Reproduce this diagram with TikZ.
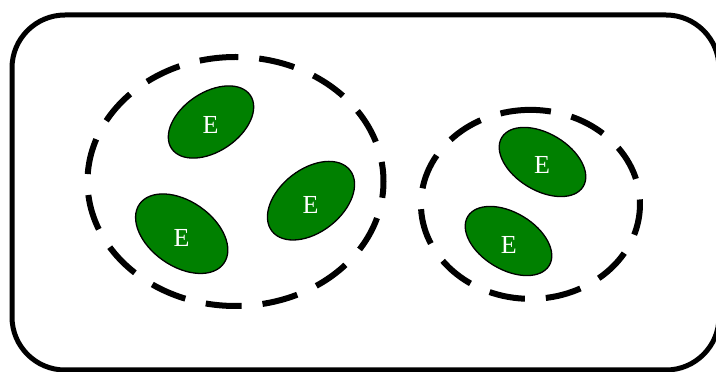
\documentclass[tikz,border=0pt]{standalone}
\usepackage{fontspec}
\setmainfont{Liberation Serif}
\definecolor{entgreen}{HTML}{008000}
\tikzset{
  frame/.style={line width=5pt, rounded corners=53pt},
  group/.style={line width=6pt, dash pattern=on 36pt off 21pt},
  entity/.style={fill=entgreen, draw=black, line width=1.3pt},
  elabel/.style={text=white, font=\fontsize{26}{26}\selectfont, inner sep=0pt, anchor=center}
}
\begin{document}
\begin{tikzpicture}[x=1pt,y=1pt]
  \useasboundingbox (0,0) rectangle (716,372);
  \begin{scope}
    \clip (0,0) rectangle (716,372);
    % outer frame, running off the right and bottom edges
    \draw[frame] (12,2) rectangle (719,357);
  \end{scope}

  % left group
  \draw[group] (235.5,315) arc[start angle=90, end angle=450, x radius=148, y radius=124.5];
  % right group
  \draw[group] (536.2,262) arc[start angle=87, end angle=447, x radius=109.5, y radius=94.5];

  % entities
  \draw[entity, rotate around={34:(211,250)}]   (211,250)   ellipse[x radius=47.5, y radius=29.5];
  \draw[entity, rotate around={-35:(181.7,138.3)}] (181.7,138.3) ellipse[x radius=51.5, y radius=32.5];
  \draw[entity, rotate around={38:(311,171.3)}] (311,171.3) ellipse[x radius=49.5, y radius=31.5];
  \draw[entity, rotate around={-31:(542.5,210)}] (542.5,210) ellipse[x radius=47.5, y radius=28.5];
  \draw[entity, rotate around={-31:(508.5,131)}] (508.5,131) ellipse[x radius=47.5, y radius=28.5];

  \node[elabel] (e1) at (210.5,247) {E};
  \node[elabel] (e2) at (181.5,134) {E};
  \node[elabel] (e3) at (310.5,167.5) {E};
  \node[elabel] (e4) at (542,207) {E};
  \node[elabel] (e5) at (508.7,127.5) {E};
\end{tikzpicture}
\end{document}
